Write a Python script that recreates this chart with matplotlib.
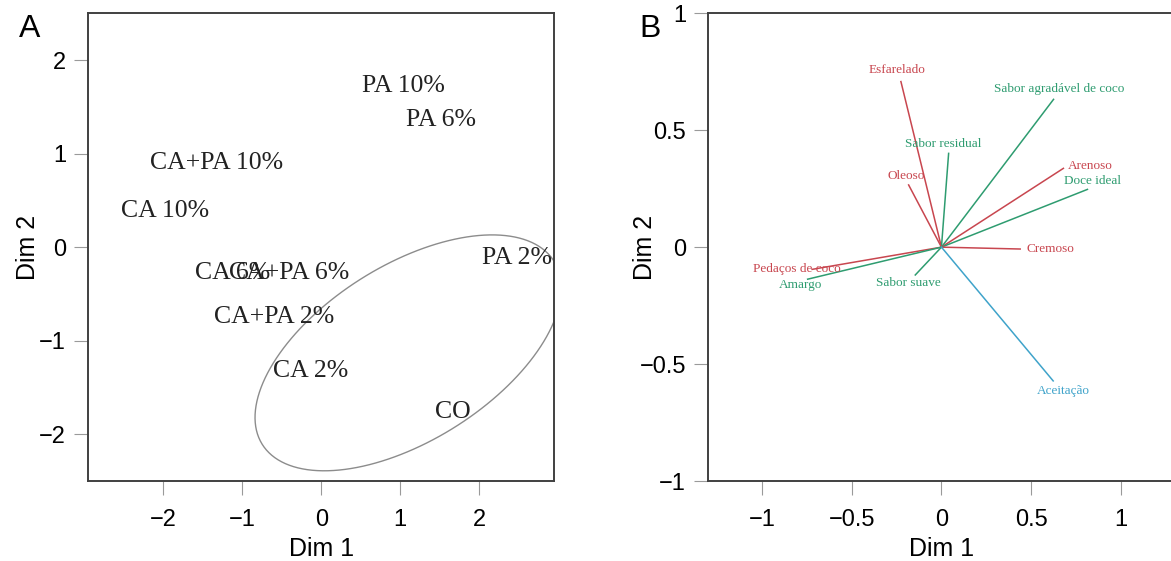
import numpy as np
import matplotlib
matplotlib.use("Agg")
import matplotlib.pyplot as plt

# ---- panel A: individuals (PCA scores) ----
samples = ["PA 10%", "PA 6%", "CA+PA 10%", "CA 10%", "PA 2%",
           "CA 6%", "CA+PA 6%", "CA+PA 2%", "CA 2%", "CO"]
dim1_ind = [1.04, 1.51, -1.33, -1.98, 2.48, -1.12, -0.41, -0.60, -0.13, 1.66]
dim2_ind = [1.72, 1.36, 0.90, 0.39, -0.12, -0.28, -0.28, -0.75, -1.32, -1.76]

# confidence ellipse (centre and shape matrix)
ell_center = [1.10, -1.13]
ell_shape = [[3.76, 1.34], [1.34, 1.59]]

# ---- panel B: variables (correlation circle) ----
variables = ["Esfarelado", "Sabor agradável de coco", "Sabor residual", "Oleoso",
             "Arenoso", "Doce ideal", "Cremoso", "Pedaços de coco", "Amargo",
             "Sabor suave", "Aceitação"]
dim1_var = [-0.226, 0.625, 0.040, -0.183, 0.680, 0.814, 0.439, -0.721, -0.746, -0.146, 0.623]
dim2_var = [0.708, 0.632, 0.401, 0.266, 0.337, 0.247, -0.008, -0.095, -0.137, -0.119, -0.572]
var_group = ["tex", "sab", "sab", "tex", "tex", "sab", "tex", "tex", "sab", "sab", "ace"]

group_colors = {"tex": "#C8464F", "sab": "#2E9C70", "ace": "#3FA3CA"}
# label offsets in pixels from the arrow tips
label_off = [(-4, 12), (6, 10), (-5, 9), (-2, 9), (27, 2), (5, 8),
             (30, 0), (-15, 0), (-7, -6), (-7, -8), (10, -10)]

W, H = 1171, 561
fig = plt.figure(figsize=(W / 100, H / 100), dpi=100)
plt.rcParams['font.family'] = ['Liberation Sans', 'DejaVu Sans']


def style_axes(ax, ylab_x):
    for s in ax.spines.values():
        s.set_color("#404040")
        s.set_linewidth(1.4)
    ax.tick_params(direction="out", length=10, width=0.8, color="#9a9a9a",
                   labelsize=17, pad=6)
    ax.tick_params(axis="x", pad=10)
    ax.set_xlabel("Dim 1", fontsize=18, va="center")
    ax.set_ylabel("Dim 2", fontsize=18, va="center")
    ax.xaxis.set_label_coords(0.5, (481 - 549) / 467.7)
    ax.yaxis.set_label_coords(ylab_x, 0.5)


# axes boxes in pixels: left, right, top, bottom
axA = fig.add_axes([88.3 / W, (H - 481) / H, 466 / W, (481 - 13.3) / H])
axB = fig.add_axes([708.3 / W, (H - 481) / H, 466.3 / W, (481 - 13.3) / H])

# panel A
for name, x, y in zip(samples, dim1_ind, dim2_ind):
    axA.text(x, y, name, ha="center", va="center", fontsize=18.5,
             family="Liberation Serif", color="#222222")

L = np.linalg.cholesky(np.array(ell_shape))
t = np.linspace(0, 2 * np.pi, 300)
pts = L @ np.vstack([np.cos(t), np.sin(t)])
axA.plot(ell_center[0] + pts[0], ell_center[1] + pts[1], color="#8c8c8c", lw=1.0)

axA.set_xlim(-2.95, 2.95)
axA.set_ylim(-2.5, 2.5)
axA.set_xticks([-2, -1, 0, 1, 2])
axA.set_yticks([-2, -1, 0, 1, 2])
style_axes(axA, (28 - 88.3) / 466)

# panel B
for name, x, y, g, off in zip(variables, dim1_var, dim2_var, var_group, label_off):
    c = group_colors[g]
    axB.plot([0, x], [0, y], color=c, lw=1.1)
    axB.annotate(name, (x, y), xytext=off, textcoords="offset pixels",
                 ha="center", va="center", fontsize=9.5,
                 family="Liberation Serif", color=c)

axB.set_xlim(-1.3, 1.3)
axB.set_ylim(-1, 1)
axB.set_xticks([-1, -0.5, 0, 0.5, 1])
axB.set_xticklabels(["\u22121", "\u22120.5", "0", "0.5", "1"])
axB.set_yticks([-1, -0.5, 0, 0.5, 1])
axB.set_yticklabels(["\u22121", "\u22120.5", "0", "0.5", "1"])
style_axes(axB, (645.5 - 708.3) / 466.3)

fig.text(30 / W, 1 - 29 / H, "A", fontsize=23, ha="center", va="center")
fig.text(650 / W, 1 - 29 / H, "B", fontsize=23, ha="center", va="center")

fig.savefig("out.png", dpi=100)
